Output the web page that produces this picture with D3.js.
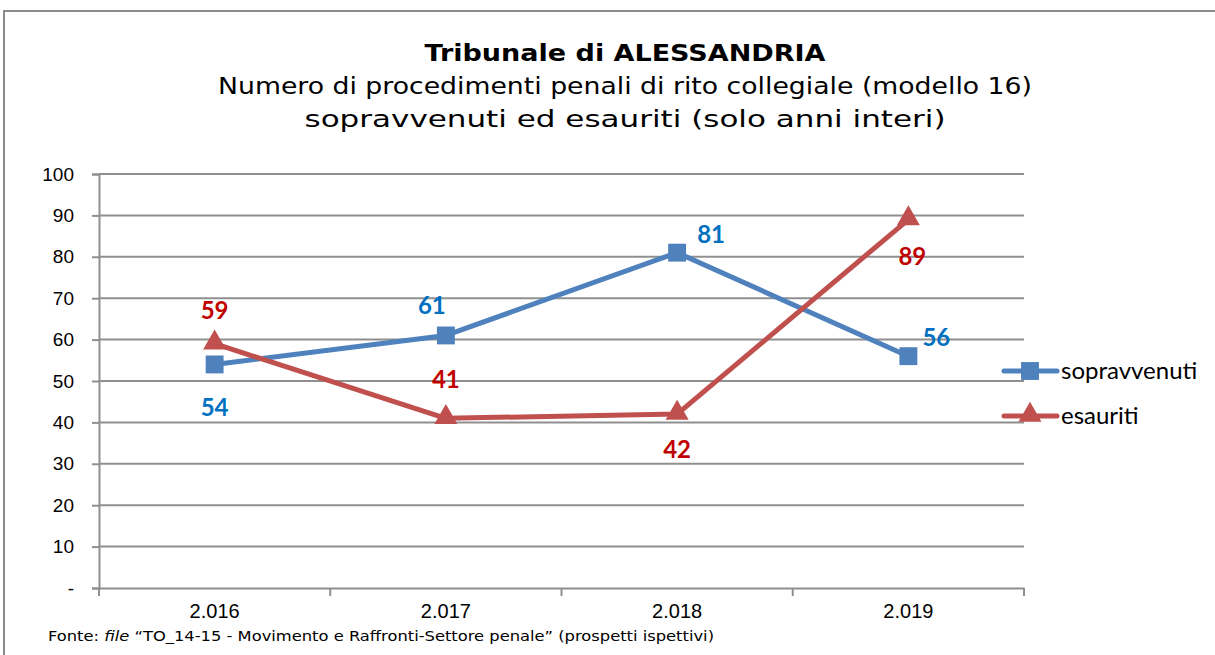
<!DOCTYPE html>
<html>
<head>
<meta charset="utf-8">
<script src="https://cdn.jsdelivr.net/npm/d3@7"></script>
<style>
  body { margin: 0; background: #fff; }
  svg { display: block; }
</style>
</head>
<body>
<script>
// values
const years = ["2.016", "2.017", "2.018", "2.019"];
const sopravvenuti = [54, 61, 81, 56];
const esauriti = [59, 41, 42, 89];
const yTicks = [0, 10, 20, 30, 40, 50, 60, 70, 80, 90, 100];
const seriesNames = ["sopravvenuti", "esauriti"];

const width = 1215, height = 655;
const plot = { left: 99, right: 1024, top: 174, bottom: 588 };

const svg = d3.select('body').append('svg')
  .attr('width', width)
  .attr('height', height);

// outer chart frame
svg.append('rect')
  .attr('x', 4).attr('y', 11)
  .attr('width', width + 10).attr('height', height)
  .attr('fill', 'none').attr('stroke', '#8c8c8c').attr('stroke-width', 2);

// titles
const titleFont = '"DejaVu Sans", Verdana, sans-serif';
svg.append('text').attr('x', 625).attr('y', 61).attr('text-anchor', 'middle')
  .style('font', `bold 23px ${titleFont}`).attr('fill', '#000')
  .attr('textLength', 401).attr('lengthAdjust', 'spacingAndGlyphs')
  .text('Tribunale di ALESSANDRIA');
svg.append('text').attr('x', 625).attr('y', 94).attr('text-anchor', 'middle')
  .style('font', `23px ${titleFont}`).attr('fill', '#000')
  .attr('textLength', 814).attr('lengthAdjust', 'spacingAndGlyphs')
  .text('Numero di procedimenti penali di rito collegiale (modello 16)');
svg.append('text').attr('x', 625).attr('y', 127).attr('text-anchor', 'middle')
  .style('font', `23px ${titleFont}`).attr('fill', '#000')
  .attr('textLength', 641).attr('lengthAdjust', 'spacingAndGlyphs')
  .text('sopravvenuti ed esauriti (solo anni interi)');

// scales
const x = d3.scaleBand().domain(years).range([plot.left, plot.right]);
const y = d3.scaleLinear().domain([0, 100]).range([plot.bottom, plot.top]);
const cx = d => x(d) + x.bandwidth() / 2;

// gridlines
svg.append('g').selectAll('line').data(yTicks.slice(1)).enter().append('line')
  .attr('x1', plot.left).attr('x2', plot.right)
  .attr('y1', d => y(d)).attr('y2', d => y(d))
  .attr('stroke', '#8f8f8f').attr('stroke-width', 2);

// y axis
const yAxis = svg.append('g').attr('transform', `translate(${plot.left},0)`)
  .call(d3.axisLeft(y).tickValues(yTicks).tickSize(7).tickPadding(18)
    .tickFormat(d => d === 0 ? '-' : d));
yAxis.select('.domain').attr('stroke', '#8f8f8f').attr('stroke-width', 2);
yAxis.selectAll('.tick line').attr('stroke', '#8f8f8f').attr('stroke-width', 2);
yAxis.selectAll('text').style('font', '19px "Liberation Sans", Arial, sans-serif').attr('fill', '#000');

// x axis
const xAxis = svg.append('g').attr('transform', `translate(0,${plot.bottom})`)
  .call(d3.axisBottom(x).tickSize(0).tickPadding(16));
xAxis.select('.domain').attr('stroke', '#8f8f8f').attr('stroke-width', 2);
xAxis.selectAll('text').style('font', '20px "Liberation Sans", Arial, sans-serif').attr('fill', '#000');
// tick marks between categories
const bounds = years.map(d => x(d)).concat([x(years[years.length - 1]) + x.bandwidth()]);
svg.append('g').selectAll('line').data(bounds).enter().append('line')
  .attr('x1', d => d).attr('x2', d => d)
  .attr('y1', plot.bottom).attr('y2', plot.bottom + 8)
  .attr('stroke', '#8f8f8f').attr('stroke-width', 2);

const blue = '#4f81bd', red = '#c0504d';
const line = d3.line().x((d, i) => cx(years[i])).y(d => y(d));

svg.append('path').datum(sopravvenuti).attr('d', line)
  .attr('fill', 'none').attr('stroke', blue).attr('stroke-width', 5).attr('stroke-linejoin', 'round');
svg.append('path').datum(esauriti).attr('d', line)
  .attr('fill', 'none').attr('stroke', red).attr('stroke-width', 5).attr('stroke-linejoin', 'round');

const square = d3.symbol().type(d3.symbolSquare).size(320);
const triangle = d3.symbol().type(d3.symbolTriangle).size(230);

svg.append('g').selectAll('path').data(sopravvenuti).enter().append('path')
  .attr('d', square)
  .attr('transform', (d, i) => `translate(${cx(years[i])},${y(d)})`)
  .attr('fill', blue);
svg.append('g').selectAll('path').data(esauriti).enter().append('path')
  .attr('d', triangle)
  .attr('transform', (d, i) => `translate(${cx(years[i])},${y(d) - 1})`)
  .attr('fill', red);

// data labels: offsets relative to the point
const blueOffsets = [[0, 52], [-14, -21], [34, -10], [28, -10]];
const redOffsets = [[0, -25], [0, -30], [0, 44], [4, 45]];
const labelFont = 'bold 24px Lato, "Open Sans", sans-serif';

svg.append('g').selectAll('text').data(sopravvenuti).enter().append('text')
  .attr('x', (d, i) => cx(years[i]) + blueOffsets[i][0])
  .attr('y', (d, i) => y(d) + blueOffsets[i][1])
  .attr('text-anchor', 'middle').style('font', labelFont).attr('fill', '#0070c0')
  .text(d => d);
svg.append('g').selectAll('text').data(esauriti).enter().append('text')
  .attr('x', (d, i) => cx(years[i]) + redOffsets[i][0])
  .attr('y', (d, i) => y(d) + redOffsets[i][1])
  .attr('text-anchor', 'middle').style('font', labelFont).attr('fill', '#c00000')
  .text(d => d);

// legend
const legend = svg.append('g');
const legendRows = [
  { name: seriesNames[0], color: blue, sym: square, y: 371 },
  { name: seriesNames[1], color: red, sym: triangle, y: 416 }
];
legendRows.forEach(r => {
  legend.append('line').attr('x1', 1004).attr('x2', 1057)
    .attr('y1', r.y).attr('y2', r.y)
    .attr('stroke', r.color).attr('stroke-width', 5).attr('stroke-linecap', 'round');
  legend.append('path').attr('d', r.sym)
    .attr('transform', `translate(1030,${r.y - (r.sym === triangle ? 1 : 0)})`)
    .attr('fill', r.color);
  legend.append('text').attr('x', 1061).attr('y', r.y + 8)
    .style('font', '24px Lato, "Open Sans", sans-serif').attr('fill', '#000')
    .text(r.name);
});

// source note
const note = svg.append('text').attr('x', 48).attr('y', 641)
  .style('font', '14px "DejaVu Sans", Verdana, sans-serif').attr('fill', '#000')
  .attr('textLength', 666).attr('lengthAdjust', 'spacingAndGlyphs');
note.append('tspan').text('Fonte: ');
note.append('tspan').style('font-style', 'italic').text('file');
note.append('tspan').text(' \u201cTO_14-15 - Movimento e Raffronti-Settore penale\u201d (prospetti ispettivi)');
</script>
</body>
</html>
